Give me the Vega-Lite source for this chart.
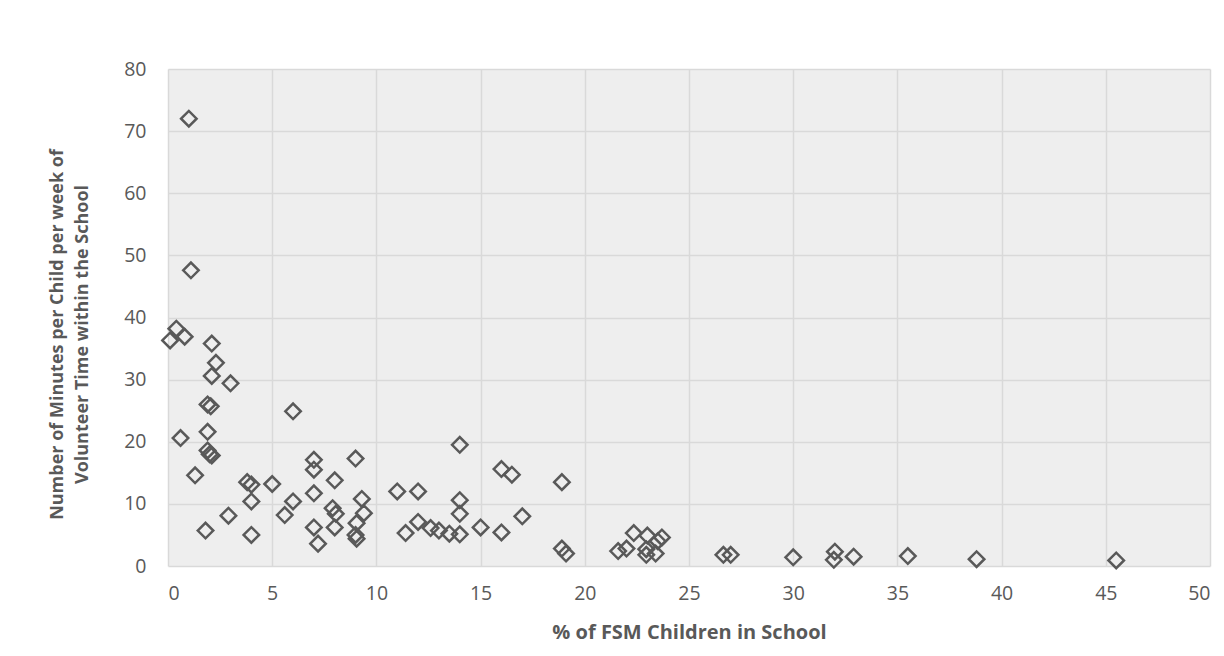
{
  "$schema": "https://vega.github.io/schema/vega-lite/v6.json",
  "autosize": "none",
  "width": 1042,
  "height": 497,
  "padding": {"left": 168, "top": 69, "right": 14, "bottom": 90},
  "background": "white",
  "config": {"view": {"fill": "#eeeeee", "stroke": null}, "font": "Open Sans"},
  "data": {"values": [
    {"fsm": 0.1, "minutes": 36.3}, {"fsm": 0.4, "minutes": 38.2}, {"fsm": 0.8, "minutes": 36.9},
    {"fsm": 1.0, "minutes": 72.0}, {"fsm": 1.1, "minutes": 47.6}, {"fsm": 2.1, "minutes": 35.8},
    {"fsm": 2.3, "minutes": 32.7}, {"fsm": 2.1, "minutes": 30.6}, {"fsm": 3.0, "minutes": 29.4},
    {"fsm": 1.9, "minutes": 26.0}, {"fsm": 2.05, "minutes": 25.7}, {"fsm": 6.0, "minutes": 24.9},
    {"fsm": 0.6, "minutes": 20.6}, {"fsm": 1.9, "minutes": 21.6}, {"fsm": 1.9, "minutes": 18.6},
    {"fsm": 2.0, "minutes": 18.0}, {"fsm": 2.1, "minutes": 17.8}, {"fsm": 1.3, "minutes": 14.6},
    {"fsm": 3.8, "minutes": 13.5}, {"fsm": 4.0, "minutes": 13.1}, {"fsm": 5.0, "minutes": 13.2},
    {"fsm": 4.0, "minutes": 10.4}, {"fsm": 6.0, "minutes": 10.4}, {"fsm": 5.6, "minutes": 8.2},
    {"fsm": 2.9, "minutes": 8.1}, {"fsm": 1.8, "minutes": 5.7}, {"fsm": 4.0, "minutes": 5.0},
    {"fsm": 7.0, "minutes": 17.1}, {"fsm": 7.0, "minutes": 15.5}, {"fsm": 7.0, "minutes": 11.7},
    {"fsm": 7.0, "minutes": 6.2}, {"fsm": 7.2, "minutes": 3.6}, {"fsm": 9.0, "minutes": 17.3},
    {"fsm": 8.0, "minutes": 13.8}, {"fsm": 9.3, "minutes": 10.8}, {"fsm": 7.9, "minutes": 9.3},
    {"fsm": 8.05, "minutes": 8.4}, {"fsm": 9.4, "minutes": 8.5}, {"fsm": 9.05, "minutes": 6.9},
    {"fsm": 8.0, "minutes": 6.2}, {"fsm": 9.0, "minutes": 5.0}, {"fsm": 9.05, "minutes": 4.4},
    {"fsm": 11.0, "minutes": 12.0}, {"fsm": 12.0, "minutes": 12.0}, {"fsm": 14.0, "minutes": 19.5},
    {"fsm": 14.0, "minutes": 10.6}, {"fsm": 14.0, "minutes": 8.4}, {"fsm": 12.0, "minutes": 7.1},
    {"fsm": 11.4, "minutes": 5.3}, {"fsm": 12.6, "minutes": 6.1}, {"fsm": 13.0, "minutes": 5.7},
    {"fsm": 13.5, "minutes": 5.2}, {"fsm": 14.0, "minutes": 5.1}, {"fsm": 16.0, "minutes": 15.6},
    {"fsm": 16.5, "minutes": 14.7}, {"fsm": 18.9, "minutes": 13.5}, {"fsm": 17.0, "minutes": 8.0},
    {"fsm": 15.0, "minutes": 6.2}, {"fsm": 16.0, "minutes": 5.4}, {"fsm": 18.9, "minutes": 2.8},
    {"fsm": 19.1, "minutes": 2.0}, {"fsm": 21.6, "minutes": 2.4}, {"fsm": 22.0, "minutes": 2.8},
    {"fsm": 22.35, "minutes": 5.3}, {"fsm": 23.0, "minutes": 4.9}, {"fsm": 23.7, "minutes": 4.6},
    {"fsm": 23.5, "minutes": 4.0}, {"fsm": 22.95, "minutes": 2.7}, {"fsm": 23.4, "minutes": 2.0},
    {"fsm": 22.95, "minutes": 1.8}, {"fsm": 26.65, "minutes": 1.8}, {"fsm": 27.0, "minutes": 1.8},
    {"fsm": 30.0, "minutes": 1.4}, {"fsm": 32.0, "minutes": 2.3}, {"fsm": 31.95, "minutes": 1.0},
    {"fsm": 32.9, "minutes": 1.5}, {"fsm": 35.5, "minutes": 1.6}, {"fsm": 38.8, "minutes": 1.1},
    {"fsm": 45.5, "minutes": 0.9}
  ]},
  "mark": {"type": "point", "shape": "diamond", "filled": false, "size": 240, "strokeWidth": 2.5, "color": "#595959", "opacity": 1},
  "encoding": {
    "x": {
      "field": "fsm", "type": "quantitative",
      "scale": {"domain": [0, 50], "nice": false, "zero": false},
      "axis": {
        "title": "% of FSM Children in School",
        "values": [0, 5, 10, 15, 20, 25, 30, 35, 40, 45, 50],
        "grid": true, "gridColor": "#d9d9d9", "gridWidth": 1.5,
        "domain": false, "ticks": false,
        "labelPadding": 18, "labelFontSize": 19.5, "labelColor": "#595959",
        "titleFontSize": 20, "titleFontWeight": "bold", "titleColor": "#595959", "titlePadding": 20
      }
    },
    "y": {
      "field": "minutes", "type": "quantitative",
      "scale": {"domain": [0, 80], "nice": false},
      "axis": {
        "title": ["Number of Minutes per Child per week of", "Volunteer Time within the School"],
        "values": [0, 10, 20, 30, 40, 50, 60, 70, 80],
        "grid": true, "gridColor": "#d9d9d9", "gridWidth": 1.5,
        "domain": false, "ticks": false,
        "labelPadding": 22, "labelFontSize": 19.5, "labelColor": "#595959",
        "titleFontSize": 18, "titleFontWeight": "bold", "titleColor": "#595959",
        "titleX": -111, "titleY": 265, "titleBaseline": "middle", "titleAngle": -90, "titleLineHeight": 25
      }
    }
  }
}
